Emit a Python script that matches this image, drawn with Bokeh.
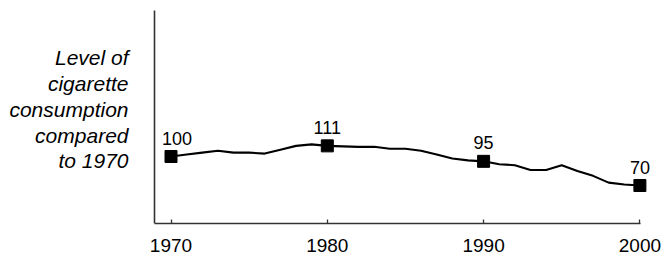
from bokeh.plotting import figure
from bokeh.models import ColumnDataSource, LabelSet, Label, FixedTicker, Range1d
from bokeh.core.properties import value
from bokeh.embed import file_html
from bokeh.resources import INLINE

years = list(range(1970, 2001))
consumption = [100, 102, 104, 106, 104, 104, 103, 107, 111, 112.5,
               111, 110.5, 110, 110, 108, 108, 106, 102, 98, 96,
               95, 92, 91, 86, 86, 91, 85, 80, 73, 71, 70]
marker_years = [1970, 1980, 1990, 2000]
marker_values = [100, 111, 95, 70]
marker_labels = ["100", "111", "95", "70"]
tick_years = [1970, 1980, 1990, 2000]
ylabel_lines = ["Level of", "cigarette", "consumption", "compared", "to 1970"]

W, H = 662, 256
PX_YR = 15.63
PX_UNIT = 0.967
X1970 = 170.5          # pixel of year 1970
Y100 = 156             # pixel of value 100
FRAME_R, FRAME_B = 652, 223
x0 = 1970 - X1970 / PX_YR
x1 = 1970 + (FRAME_R - X1970) / PX_YR
y1 = 100 + Y100 / PX_UNIT
y0 = 100 - (FRAME_B - Y100) / PX_UNIT
yaxis_x = 1970 - 16.5 / PX_YR
yaxis_top = 100 + (Y100 - 10) / PX_UNIT

p = figure(width=W, height=H, output_backend="svg", toolbar_location=None,
           x_range=Range1d(x0, x1), y_range=Range1d(y0, y1),
           y_axis_location="right",
           min_border_left=0, min_border_right=W - FRAME_R,
           min_border_top=0, min_border_bottom=H - FRAME_B)
p.outline_line_color = None
p.grid.visible = False
p.background_fill_color = "white"
p.border_fill_color = "white"

p.line(years, consumption, line_width=2.1, line_color="black")
label_dx = [6, 0, 0, 0]
msrc = ColumnDataSource(dict(x=marker_years, y=marker_values, t=marker_labels, dx=label_dx))
p.scatter("x", "y", source=msrc, marker="square", size=12, fill_color="black", line_color="black")

ls = LabelSet(x="x", y="y", text="t", source=msrc, x_offset="dx", text_align="center",
              text_baseline="alphabetic", y_offset=12, text_font=value("Liberation Sans"),
              text_font_size=value("18px"), text_color="black")
p.add_layout(ls)

xa = p.xaxis[0]
xa.ticker = FixedTicker(ticks=tick_years)
xa.bounds = (yaxis_x, 2000.05)
xa.minor_tick_line_color = None
xa.major_tick_in = 4
xa.major_tick_out = 0
xa.major_label_standoff = 15
xa.major_label_text_font = "Liberation Sans"
xa.major_label_text_font_size = "19px"
xa.major_label_text_color = "black"
xa.axis_line_color = "#333333"
xa.axis_line_width = 1.6
xa.major_tick_line_color = "#333333"
xa.major_tick_line_width = 1.3

ya = p.yaxis[0]
ya.fixed_location = yaxis_x
ya.bounds = (y0, yaxis_top)
ya.ticker = FixedTicker(ticks=[])
ya.minor_tick_line_color = None
ya.major_tick_line_color = None
ya.major_label_text_font_size = "0px"
ya.axis_line_color = "#333333"
ya.axis_line_width = 1.6

label_x = 1970 - (X1970 - 128) / PX_YR
label_vals = [202.4, 175.5, 148.6, 121.7, 95.9]
for txt, yv in zip(ylabel_lines, label_vals):
    p.add_layout(Label(x=label_x, y=yv, text=txt, text_align="right", text_baseline="middle",
                       text_font="Liberation Sans", text_font_style="italic",
                       text_font_size="21px", text_color="black"))

open("out.html", "w").write(file_html(p, INLINE))
